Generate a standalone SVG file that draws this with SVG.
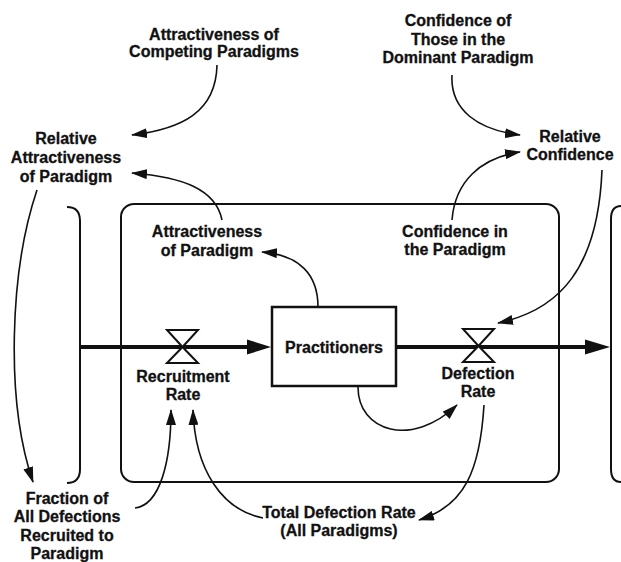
<svg xmlns="http://www.w3.org/2000/svg" width="621" height="562" viewBox="0 0 621 562">
<style>
  .t { font-family: "Liberation Sans", Arial, Helvetica, sans-serif; font-weight: bold; font-size: 16px; text-anchor: middle; fill: #111; stroke: #111; stroke-width: 0.3; }
  .link { fill: none; stroke: #111; stroke-width: 1.6; marker-end: url(#ah); }
  .pipe { fill: none; stroke: #111; stroke-width: 4; }
  .frame { fill: none; stroke: #111; stroke-width: 2; }
  .valve { fill: #fff; stroke: #111; stroke-width: 2; stroke-linejoin: miter; }
  .head { fill: #111; }
</style>
<defs>
  <marker id="ah" viewBox="0 0 16 10" refX="15" refY="5" markerWidth="16" markerHeight="10" markerUnits="userSpaceOnUse" orient="auto">
    <path d="M0,0 L16,5 L0,10 z" fill="#111"/>
  </marker>
</defs>
<rect width="621" height="562" fill="#fff"/>

<g id="sector-boundary">
  <rect class="frame" x="121" y="204" width="438" height="278" rx="13" ry="13"/>
</g>
<g id="source-cloud">
  <path class="frame" d="M67,207 Q80,207 80,221 L80,469 Q80,483 67,483"/>
</g>
<g id="sink-cloud">
  <path class="frame" d="M621,206 Q611,206 611,219 L611,469 Q611,482 621,482"/>
</g>

<g id="flows">
  <line class="pipe" x1="80" y1="347" x2="250" y2="347"/>
  <polygon class="head" points="247,339.5 271,347 247,354.5"/>
  <line class="pipe" x1="396" y1="347" x2="588" y2="347"/>
  <polygon class="head" points="585,339.5 610,347 585,354.5"/>
</g>

<g id="connectors">
  <path class="link" d="M217,65 C216,112 182,129 132,135"/>
  <path class="link" d="M222,220 C216,190 184,177 132,173"/>
  <path class="link" d="M37,190 C10,270 5,400 33,482"/>
  <path class="link" d="M318,307 C318,275 300,255 262,252"/>
  <path class="link" d="M452,75 C450,110 478,130 520,135"/>
  <path class="link" d="M452,220 C455,182 480,158 520,152"/>
  <path class="link" d="M602,170 C598,268 560,310 498,323"/>
  <path class="link" d="M358,387 C358,432 412,448 457,405"/>
  <path class="link" d="M484,405 C480,470 465,506 419,520"/>
  <path class="link" d="M135,508 C160,505 171,462 171,410"/>
  <path class="link" d="M263,518 C222,510 195,470 193,410"/>
</g>

<g id="practitioners">
  <rect x="272" y="307" width="124" height="79" fill="#fff" stroke="#111" stroke-width="2.5"/>
  <text class="t" x="334" y="353">Practitioners</text>
</g>

<g id="recruitment-rate">
  <path class="valve" d="M167,330 L198,330 L182.5,347 Z M167,363 L198,363 L182.5,347 Z"/>
  <text class="t" x="183" y="382">Recruitment</text>
  <text class="t" x="183" y="400">Rate</text>
</g>

<g id="defection-rate">
  <path class="valve" d="M463,329 L494,329 L478.5,346 Z M463,362 L494,362 L478.5,346 Z"/>
  <text class="t" x="478" y="379">Defection</text>
  <text class="t" x="478" y="397">Rate</text>
</g>

<g id="attractiveness-competing">
  <text class="t" x="214" y="39.5">Attractiveness of</text>
  <text class="t" x="214" y="57">Competing Paradigms</text>
</g>

<g id="relative-attractiveness">
  <text class="t" x="66" y="144">Relative</text>
  <text class="t" x="66" y="163">Attractiveness</text>
  <text class="t" x="66" y="182">of Paradigm</text>
</g>

<g id="attractiveness-paradigm">
  <text class="t" x="207" y="237">Attractiveness</text>
  <text class="t" x="207" y="256">of Paradigm</text>
</g>

<g id="confidence-dominant">
  <text class="t" x="458" y="26">Confidence of</text>
  <text class="t" x="458" y="45">Those in the</text>
  <text class="t" x="458" y="63">Dominant Paradigm</text>
</g>

<g id="relative-confidence">
  <text class="t" x="570" y="142">Relative</text>
  <text class="t" x="570" y="160">Confidence</text>
</g>

<g id="confidence-paradigm">
  <text class="t" x="455" y="237">Confidence in</text>
  <text class="t" x="455" y="255">the Paradigm</text>
</g>

<g id="total-defection-rate">
  <text class="t" x="339" y="518">Total Defection Rate</text>
  <text class="t" x="339" y="536">(All Paradigms)</text>
</g>

<g id="fraction-recruited">
  <text class="t" x="67" y="504">Fraction of</text>
  <text class="t" x="67" y="522">All Defections</text>
  <text class="t" x="67" y="541">Recruited to</text>
  <text class="t" x="67" y="559">Paradigm</text>
</g>
</svg>
